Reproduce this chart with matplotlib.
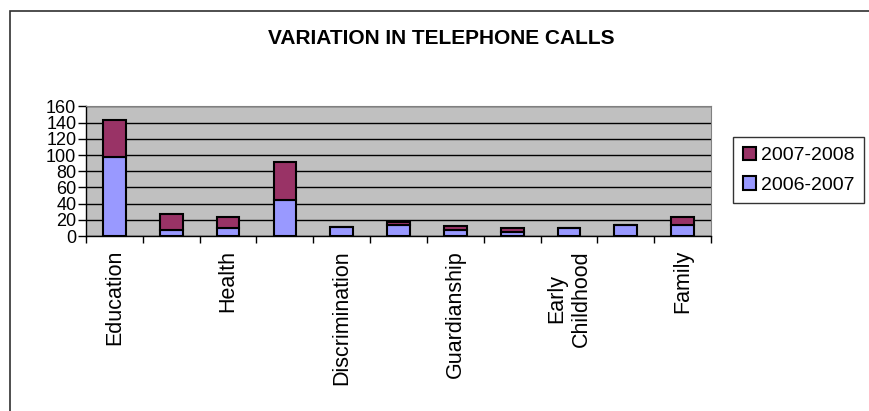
import numpy as np
import matplotlib.pyplot as plt
from matplotlib.patches import Rectangle

plt.rcParams['font.family'] = ['Liberation Sans', 'DejaVu Sans']

# Data
categories = ["Education", "", "Health", "", "Discrimination", "", "Guardianship",
              "", "Early\nChildhood", "", "Family"]
calls_2006_2007 = [98, 8, 10, 45, 11, 14, 7, 5, 10, 13, 13]
calls_2007_2008 = [45, 19, 13, 46, 0, 3, 5, 5, 0, 0, 10]
y_ticks = [0, 20, 40, 60, 80, 100, 120, 140, 160]

fig = plt.figure(figsize=(8.69, 4.11), dpi=100)

# Outer chart frame
fig.patches.append(Rectangle((10 / 869, -0.1), 1.2, 1 - 11 / 411 + 0.1,
                             transform=fig.transFigure, fill=False,
                             edgecolor='#303030', linewidth=1.2))

ax = fig.add_axes([86 / 869, 175 / 411, 625 / 869, 129.5 / 411])
ax.set_facecolor('#C0C0C0')

x = np.arange(len(categories))
b1 = ax.bar(x, calls_2006_2007, width=0.4, color='#9999FF', edgecolor='black',
            linewidth=1.5, label='2006-2007', zorder=3)
b2 = ax.bar(x, calls_2007_2008, width=0.4, bottom=calls_2006_2007, color='#993366',
            edgecolor='black', linewidth=1.5, label='2007-2008', zorder=3)

ax.set_xlim(-0.5, len(categories) - 0.5)
ax.set_ylim(0, 160)
ax.set_yticks(y_ticks)
ax.set_yticklabels([str(v) for v in y_ticks], fontsize=13)
ax.yaxis.grid(True, color='black', linewidth=1, zorder=0)
ax.set_axisbelow(True)

ax.set_xticks(x)
ax.set_xticklabels(categories, rotation=90, fontsize=15.5, va='top',
                   ha='center', multialignment='center', linespacing=1.25)
ax.set_xticks(np.arange(len(categories) + 1) - 0.5, minor=True)
ax.tick_params(axis='x', which='major', length=0, pad=10)
ax.tick_params(axis='x', which='minor', length=5, width=1, direction='out')
ax.tick_params(axis='y', length=6, width=1, direction='out', pad=1)

for side in ['top', 'right']:
    ax.spines[side].set_color('#808080')
for side in ['left', 'bottom']:
    ax.spines[side].set_color('black')
    ax.spines[side].set_linewidth(1)

fig.text(441 / 869, 1 - 38 / 411, "VARIATION IN TELEPHONE CALLS", ha='center',
         va='center', fontsize=15, fontweight='bold')

leg = fig.legend(handles=[b2, b1], labels=['2007-2008', '2006-2007'],
                 loc='upper left', bbox_to_anchor=(733 / 869, 1 - 137 / 411),
                 fontsize=14, frameon=True, fancybox=False, edgecolor='black',
                 handlelength=0.7, handleheight=0.7, handletextpad=0.25,
                 borderpad=0.5, labelspacing=0.6, borderaxespad=0)
leg.get_frame().set_linewidth(1)

fig.savefig('out.png', dpi=100)
